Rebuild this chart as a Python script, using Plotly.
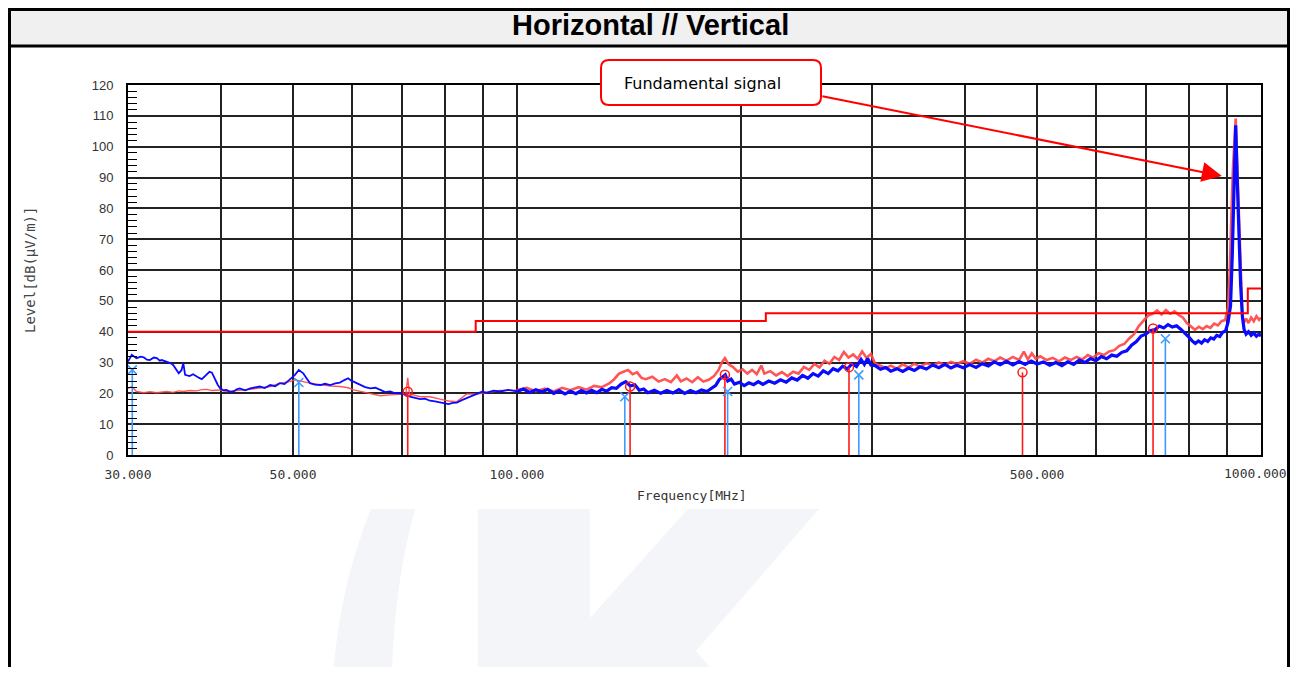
import math
import plotly.graph_objects as go

# ---------------- data ----------------
# Vertical polarisation trace (blue)
vert_freq = [30.0, 30.35, 30.8, 31.2, 31.5, 31.8, 32.1, 32.5, 32.8, 33.1, 33.3, 33.8, 34.2, 34.5, 34.8,
             35.1, 35.4, 35.6, 35.8, 36.3, 36.7, 37.1, 37.4, 37.7, 38.0, 38.3, 38.6, 38.9, 39.1, 39.3,
             39.6, 39.9, 40.3, 40.7, 41.2, 41.6, 42.0, 42.4, 43.1, 43.8, 44.5, 45.1, 45.8, 46.6, 47.3,
             48.0, 48.7, 49.5, 50.3, 50.9, 51.6, 52.1, 52.7, 53.5, 54.4, 55.2, 56.1, 57.0, 57.8, 58.6,
             59.3, 59.8, 60.3, 61.5, 62.5, 63.5, 64.5, 65.5, 66.5, 67.5, 68.5, 69.6, 70.7, 71.8, 73.0,
             74.1, 75.2, 76.4, 77.6, 78.8, 80.0, 80.9, 82.0, 83.0, 84.3, 85.6, 87.0, 88.3, 89.7, 91.1,
             93.0, 94.9, 97.3, 100, 102, 104, 106, 108, 110, 112, 114, 116, 118, 120,
             122, 124, 126, 128, 130, 132, 134, 136, 138, 140, 142, 144, 146, 148, 150,
             153, 156, 159, 162, 165, 168, 171, 174, 177, 180, 183, 185, 187, 189, 190.5,
             192, 194, 196, 199, 202, 205, 208, 211, 214, 218, 222, 226, 230, 234, 238,
             242, 246, 250, 254, 258, 262, 266, 270, 274, 278, 282, 286, 290, 293, 296,
             299, 303, 308, 313, 318, 324, 330, 336, 342, 348, 355, 362, 369, 376, 383,
             390, 398, 406, 414, 422, 430, 438, 446, 455, 464, 473, 482, 491, 500, 510,
             520, 530, 540, 550, 560, 570, 580, 590, 600, 610, 620, 630, 640, 650, 660,
             670, 680, 690, 700, 710, 720, 730, 740, 750, 760, 770, 780, 790, 800, 808,
             816, 824, 832, 840, 848, 856, 864, 872, 880, 888, 896, 903, 910, 915, 919.7,
             924.6, 929.5, 934, 939, 944, 949, 955, 962, 970, 978, 986, 994, 1000]
vert_level = [30.3, 32.5, 31.4, 31.9, 31.7, 30.9, 30.8, 31.6, 31.4, 30.6, 30.8, 30.3, 29.8, 29.2, 28.0,
              26.5, 27.5, 29.8, 26.0, 25.6, 26.2, 25.4, 25.0, 24.6, 25.4, 26.5, 27.0, 26.7, 25.5, 24.4,
              22.8, 21.6, 21.0, 21.1, 20.4, 20.6, 21.3, 21.6, 21.0, 21.6, 22.0, 22.2, 21.7, 22.7, 22.3,
              23.3, 23.0, 24.6, 26.0, 27.6, 26.5, 25.0, 23.3, 22.8, 22.7, 23.1, 22.7, 23.2, 23.5, 24.3,
              24.9, 24.2, 23.8, 22.7, 22.0, 21.6, 21.8, 21.1, 20.4, 20.6, 20.1, 20.0, 19.6, 18.9, 18.6,
              18.1, 18.3, 17.6, 17.4, 17.0, 16.6, 16.5, 16.9, 17.0, 17.8, 18.4, 19.2, 19.8, 20.5, 20.2,
              20.9, 20.6, 21.1, 20.6, 21.4, 20.3, 21.2, 20.5, 21.3, 20.0, 20.8, 19.8, 20.7, 19.9,
              20.9, 20.1, 21.0, 20.2, 21.3, 20.7, 21.8, 21.6, 23.0, 23.8, 22.4, 22.8, 21.0, 21.4, 20.2,
              21.0, 20.0, 20.9, 20.1, 21.2, 20.0, 20.9, 20.2, 21.1, 20.6, 21.8, 22.6, 24.5, 25.2, 26.0,
              24.0, 24.6, 23.0, 23.6, 22.5, 23.4, 22.8, 23.8, 22.9, 24.0, 23.3, 24.4, 23.6, 25.0, 24.3,
              25.8, 24.9, 26.4, 25.6, 27.3, 26.4, 28.0, 27.3, 28.8, 27.9, 29.6, 28.7, 31.0, 29.4, 31.3,
              29.2, 29.0, 27.8, 28.4, 27.2, 28.0, 27.1, 28.2, 27.4, 28.6, 27.9, 29.2, 28.3, 29.4, 28.2,
              29.1, 28.3, 29.3, 28.4, 29.6, 28.9, 30.2, 29.3, 30.4, 29.2, 30.3, 29.4, 30.5, 29.5, 30.2,
              29.1, 30.0, 29.0, 30.2, 29.4, 30.8, 30.0, 31.3, 30.6, 31.9, 31.2, 32.4, 32.0, 33.3, 33.8,
              35.6, 36.8, 38.6, 39.2, 40.4, 40.6, 41.8, 41.2, 42.3, 41.5, 41.9, 40.8, 39.6, 38.2, 37.0,
              36.2, 37.0, 36.3, 37.4, 36.8, 38.0, 37.6, 38.8, 38.4, 39.8, 40.2, 43.0, 48.4, 65.0, 87.8,
              106.9, 87.8, 70.0, 55.0, 45.0, 40.7, 39.2, 40.0, 38.8, 39.6, 38.5, 39.2, 38.6]

# Horizontal polarisation trace (red)
horiz_freq = [30.0, 30.35, 30.8, 31.5, 32.1, 32.8, 33.8, 34.5, 35.1, 35.6, 36.3, 37.1, 37.7, 38.3, 38.9,
              39.9, 40.7, 41.6, 42.4, 43.8, 45.1, 46.6, 48.0, 49.5, 50.3, 50.9, 51.6, 52.7, 54.4, 56.1,
              57.8, 59.3, 60.3, 61.5, 63.5, 65.5, 67.5, 69.6, 70.9, 71.3, 71.7, 74.1, 76.4, 78.8, 80.9,
              83.0, 85.6, 88.3, 91.1, 94.9, 100, 103, 106, 109, 112, 115, 118, 121, 124,
              127, 130, 133, 135, 137, 139, 141, 143, 145, 147, 149, 152, 155, 158, 161,
              164, 166, 169, 172, 175, 178, 181, 184, 186.5, 188.5, 190.3, 192.5, 195, 198, 201,
              204, 207, 210, 213, 215, 219, 223, 227, 231, 235, 239, 243, 247, 251, 255,
              259, 263, 267, 271, 275, 279, 283, 287, 291, 295, 299, 303, 308, 313, 318,
              324, 330, 336, 342, 348, 355, 362, 369, 376, 383, 390, 398, 406, 414, 422,
              430, 438, 446, 455, 464, 473, 480, 486, 492, 498, 505, 515, 525, 535, 545,
              555, 565, 575, 585, 595, 605, 615, 625, 635, 645, 655, 665, 675, 685, 695,
              705, 715, 725, 735, 745, 755, 765, 775, 785, 795, 805, 815, 825, 835, 845,
              855, 865, 875, 885, 895, 903, 908, 913, 917, 924.6, 931, 936, 940, 944, 948,
              955, 962, 970, 978, 986, 994, 1000]
horiz_level = [21.6, 22.2, 20.6, 20.2, 20.5, 20.2, 20.6, 20.3, 20.8, 20.6, 20.9, 20.8, 21.2, 21.3, 20.9,
               21.1, 20.6, 20.9, 21.0, 21.3, 21.8, 22.2, 23.3, 23.8, 24.4, 24.2, 23.8, 23.3, 22.8, 22.4,
               22.2, 21.8, 21.1, 20.6, 20.0, 19.2, 19.5, 19.6, 19.8, 25.0, 19.8, 18.9, 18.9, 18.1, 17.5,
               17.3, 19.8, 19.8, 20.2, 20.9, 21.0, 21.8, 20.7, 21.5, 20.6, 21.8, 21.0, 22.0, 21.2,
               22.4, 22.0, 23.2, 24.5, 26.3, 27.0, 27.6, 26.2, 26.8, 25.0, 24.6, 25.4, 23.8, 24.6, 23.6,
               25.8, 23.9, 24.8, 23.6, 25.2, 23.8, 24.4, 25.6, 27.5, 30.0, 31.4, 29.4, 28.6, 27.0, 27.8,
               26.4, 27.6, 26.2, 29.0, 26.4, 27.2, 25.8, 26.9, 25.6, 27.0, 26.4, 28.6, 27.6, 29.5, 28.4,
               30.6, 29.6, 31.8, 30.8, 33.4, 31.6, 32.6, 31.2, 33.6, 31.5, 32.8, 29.6, 29.0, 28.2, 29.0,
               28.0, 29.4, 28.4, 29.6, 28.6, 29.8, 29.0, 30.0, 29.2, 30.2, 29.5, 30.4, 29.6, 30.9, 30.0,
               31.2, 30.4, 31.6, 30.6, 31.8, 30.8, 33.5, 31.0, 33.0, 31.2, 32.0, 30.8, 31.5, 30.4, 31.6,
               30.8, 31.8, 31.0, 32.4, 31.6, 33.0, 32.4, 33.6, 34.0, 35.4, 36.0, 37.8, 39.2, 41.8, 43.4,
               45.2, 45.8, 46.9, 45.6, 47.0, 45.8, 46.6, 45.4, 44.6, 42.8, 41.6, 40.6, 41.6, 40.8, 41.8,
               41.2, 42.6, 42.0, 43.4, 43.8, 48.0, 60.4, 80.0, 93.2, 109.1, 87.8, 70.0, 55.0, 45.0, 42.9,
               44.2, 42.8, 44.6, 43.4, 45.0, 43.8, 44.6]

# FCC Class B (3 m) limit line
limit_freq = [30, 88, 88, 216, 216, 960, 960, 1000]
limit_level = [40, 40, 43.5, 43.5, 46, 46, 54, 54]

# Peak markers
vert_peak_freq = [30.4, 50.9, 139.6, 191.9, 288.0, 743.8]
vert_peak_level = [27.6, 23.5, 18.9, 20.6, 26.0, 37.7]
horiz_peak_freq = [71.3, 141.9, 190.3, 279.4, 478.0, 716.0]
horiz_peak_level = [20.5, 22.2, 26.0, 28.5, 26.8, 41.0]

# Axis ticks (the last label is placed separately so it stays inside the page)
x_grid_vals = [30, 40, 50, 60, 70, 80, 90, 100, 200, 300, 400, 500, 600, 700, 800, 900, 1000]
x_tick_text = ["30.000", "", "50.000", "", "", "", "", "100.000", "", "", "", "500.000", "", "", "", "", ""]
x_last_label = "1000.000"

# ---------------- geometry (screen pixels; the page body has an 8 px margin on every side) ----------------
OFF = 8
SW, SH = 1298, 675                   # window size
PL, PR, PT, PB = 128, 1261, 85, 455  # plot area in screen pixels
W, H = SW - 2 * OFF, SH - 2 * OFF    # keep the page exactly the window size
SPLIT = 100  # below this frequency the traces are drawn thinner


def X(px):
    return (px - PL) / (PR - PL)


def Y(py):
    return (PB - py) / (PB - PT)


def stems(fs, ls):
    xs, ys = [], []
    for f, l in zip(fs, ls):
        xs += [f, f, None]
        ys += [0, l, None]
    return xs, ys


def part(fs, ls, low):
    pts = [(f, l) for f, l in zip(fs, ls) if (f <= SPLIT if low else f >= SPLIT)]
    return [p[0] for p in pts], [p[1] for p in pts]


fig = go.Figure()

for low, wr in [(True, 1.4), (False, 2.6)]:
    hx, hy = part(horiz_freq, horiz_level, low)
    fig.add_trace(go.Scatter(x=hx, y=hy, mode="lines",
                             line=dict(color="rgba(255,70,70,0.92)", width=wr), hoverinfo="skip"))
for low, wb in [(True, 1.8), (False, 3.2)]:
    vx, vy = part(vert_freq, vert_level, low)
    fig.add_trace(go.Scatter(x=vx, y=vy, mode="lines",
                             line=dict(color="#0a0aff", width=wb), hoverinfo="skip"))

fig.add_trace(go.Scatter(x=limit_freq, y=limit_level, mode="lines",
                         line=dict(color="#ff0000", width=2), hoverinfo="skip"))

sx, sy = stems(horiz_peak_freq, horiz_peak_level)
fig.add_trace(go.Scatter(x=sx, y=sy, mode="lines", line=dict(color="#ff1a1a", width=1.6), hoverinfo="skip"))
fig.add_trace(go.Scatter(x=horiz_peak_freq, y=horiz_peak_level, mode="markers", hoverinfo="skip",
                         marker=dict(symbol="circle-open", size=9, color="#ff1a1a", line=dict(width=1.5))))
sx, sy = stems(vert_peak_freq, vert_peak_level)
fig.add_trace(go.Scatter(x=sx, y=sy, mode="lines", line=dict(color="#3d9bff", width=1.6), hoverinfo="skip"))
fig.add_trace(go.Scatter(x=vert_peak_freq, y=vert_peak_level, mode="markers", hoverinfo="skip",
                         marker=dict(symbol="x-thin-open", size=9, color="#3d9bff", line=dict(width=1.6, color="#3d9bff"))))

shapes = []
# title band and frame
shapes.append(dict(type="rect", xref="paper", yref="paper", x0=X(9), x1=X(1289), y0=Y(9), y1=Y(46),
                   fillcolor="#f0f0f0", line=dict(width=0), layer="below"))
for (a, b, c, d) in [(8, 9.5, 1290, 9.5), (8, 46, 1290, 46), (9.5, 8, 9.5, 675), (1288.5, 8, 1288.5, 675)]:
    shapes.append(dict(type="line", xref="paper", yref="paper", x0=X(a), y0=Y(b), x1=X(c), y1=Y(d),
                       line=dict(color="black", width=3)))

# watermark
wm = "#f4f5f9"
arc = (f"M {X(371)},{Y(509)} L {X(415)},{Y(509)} Q {X(394)},{Y(585)} {X(392)},{Y(675)} "
       f"L {X(333)},{Y(675)} Q {X(340)},{Y(585)} {X(371)},{Y(509)} Z")
shapes.append(dict(type="path", xref="paper", yref="paper", path=arc, fillcolor=wm, line=dict(width=0), layer="below"))
kpts = [(478, 509), (590, 509), (590, 618), (688, 509), (819, 509), (696, 651), (716, 675), (478, 675)]
kpath = "M " + " L ".join(f"{X(a)},{Y(b)}" for a, b in kpts) + " Z"
shapes.append(dict(type="path", xref="paper", yref="paper", path=kpath, fillcolor=wm, line=dict(width=0), layer="below"))

# rounded callout box
x0, x1, y0, y1, r = 601, 821, 60, 105, 8
box = (f"M {X(x0 + r)},{Y(y0)} L {X(x1 - r)},{Y(y0)} Q {X(x1)},{Y(y0)} {X(x1)},{Y(y0 + r)} "
       f"L {X(x1)},{Y(y1 - r)} Q {X(x1)},{Y(y1)} {X(x1 - r)},{Y(y1)} L {X(x0 + r)},{Y(y1)} "
       f"Q {X(x0)},{Y(y1)} {X(x0)},{Y(y1 - r)} L {X(x0)},{Y(y0 + r)} Q {X(x0)},{Y(y0)} {X(x0 + r)},{Y(y0)} Z")
shapes.append(dict(type="path", xref="paper", yref="paper", path=box, fillcolor="white",
                   line=dict(color="#ff0000", width=2), layer="above"))

tick_font = dict(family="DejaVu Sans Mono", size=13, color="#333")
annotations = [
    dict(text="<b>Horizontal // Vertical</b>", xref="paper", yref="paper", x=X(650), y=Y(25),
         xanchor="center", yanchor="middle", showarrow=False,
         font=dict(family="Liberation Sans, Arial", size=29, color="black")),
    dict(text="Fundamental signal", xref="paper", yref="paper", x=X(622), y=Y(83),
         xanchor="left", yanchor="middle", showarrow=False,
         font=dict(family="DejaVu Sans", size=16, color="black")),
    dict(text="", x=math.log10(886), y=90.5, xref="x", yref="y", showarrow=True,
         ax=821 - 1222, ay=96 - 176, arrowhead=2, arrowsize=2, arrowwidth=2, arrowcolor="#ff0000"),
    dict(text=x_last_label, xref="paper", yref="paper", x=X(1289), y=Y(474),
         xanchor="right", yanchor="middle", showarrow=False, font=tick_font),
    dict(text="Frequency[MHz]", xref="paper", yref="paper", x=X(692), y=Y(495),
         xanchor="center", yanchor="middle", showarrow=False,
         font=dict(family="DejaVu Sans Mono", size=13, color="#333")),
    dict(text="Level[dB(μV/m)]", xref="paper", yref="paper", x=X(30), y=Y(270),
         xanchor="center", yanchor="middle", showarrow=False, textangle=-90,
         font=dict(family="DejaVu Sans Mono", size=14, color="#444")),
]

fig.update_layout(
    width=W, height=H,
    margin=dict(l=PL - OFF, r=(SW - OFF) - PR, t=PT - OFF, b=(SH - OFF) - PB),
    paper_bgcolor="white", plot_bgcolor="white",
    showlegend=False,
    shapes=shapes, annotations=annotations,
    xaxis=dict(type="log", range=[math.log10(30), 3], tickmode="array", tickvals=x_grid_vals,
               ticktext=x_tick_text, showgrid=True, gridcolor="#222", gridwidth=1.5,
               showline=True, linecolor="black", linewidth=2, mirror=True, ticks="",
               tickfont=tick_font, ticklabelstandoff=6, zeroline=False),
    yaxis=dict(range=[0, 120], tick0=0, dtick=10, showgrid=True, gridcolor="#222", gridwidth=1.5,
               showline=True, linecolor="black", linewidth=2, mirror=True, ticks="",
               minor=dict(dtick=2, ticks="inside", ticklen=9, tickwidth=1.3, tickcolor="black", showgrid=False),
               tickfont=dict(family="Liberation Sans, Arial", size=13, color="#333"),
               ticklabelstandoff=10, zeroline=False),
)

fig.write_html("out.html", config={"displayModeBar": False})
